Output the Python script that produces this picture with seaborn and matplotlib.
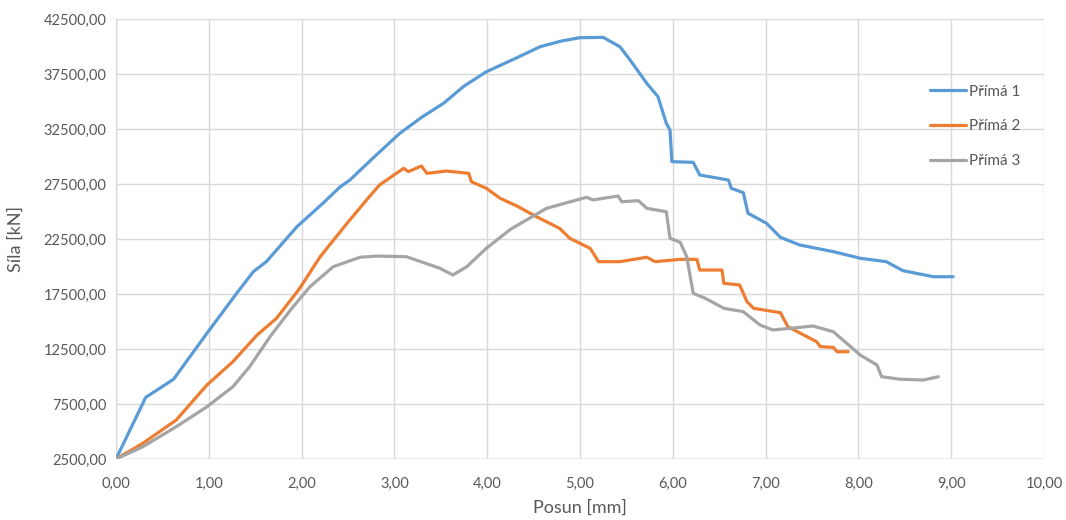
import numpy as np
import pandas as pd
import matplotlib
matplotlib.use('Agg')
import matplotlib.pyplot as plt
import seaborn as sns
from matplotlib.ticker import FuncFormatter

# Přímá 1
x1 = [0.00, 0.32, 0.62, 0.98, 1.30, 1.48, 1.62, 1.95, 2.23, 2.41, 2.52, 2.80, 3.06, 3.30, 3.53, 3.75,
      3.99, 4.30, 4.57, 4.80, 5.00, 5.25, 5.43, 5.54, 5.72, 5.84, 5.93, 5.97, 5.99, 6.22, 6.29, 6.60,
      6.63, 6.76, 6.81, 7.01, 7.16, 7.37, 7.73, 8.02, 8.30, 8.48, 8.81, 9.02]
y1 = [2500, 8100, 9750, 13930, 17560, 19530, 20440, 23620, 25750, 27200, 27860, 30100, 32120, 33600,
      34840, 36400, 37700, 38900, 39980, 40500, 40800, 40830, 39980, 38770, 36650, 35440, 33020, 32400,
      29530, 29470, 28320, 27860, 27110, 26710, 24840, 23930, 22650, 21950, 21350, 20750, 20440, 19620,
      19070, 19070]

# Přímá 2
x2 = [0.00, 0.29, 0.65, 0.98, 1.26, 1.52, 1.73, 1.98, 2.20, 2.49, 2.70, 2.84, 3.10, 3.15, 3.29, 3.35,
      3.56, 3.80, 3.83, 3.99, 4.14, 4.32, 4.53, 4.78, 4.89, 5.11, 5.20, 5.43, 5.72, 5.81, 6.08, 6.26,
      6.29, 6.53, 6.55, 6.72, 6.80, 6.87, 7.16, 7.24, 7.55, 7.59, 7.73, 7.77, 7.89]
y2 = [2500, 3930, 6050, 9230, 11350, 13770, 15290, 18020, 20890, 23930, 26050, 27410, 28930, 28620,
      29140, 28470, 28680, 28470, 27710, 27110, 26200, 25500, 24530, 23470, 22560, 21650, 20440, 20440,
      20840, 20440, 20650, 20650, 19680, 19680, 18470, 18320, 16800, 16200, 15800, 14530, 13160, 12710,
      12650, 12250, 12250]

# Přímá 3
x3 = [0.00, 0.29, 0.65, 0.98, 1.26, 1.44, 1.66, 1.88, 2.09, 2.34, 2.63, 2.81, 3.13, 3.49, 3.63, 3.78,
      3.99, 4.25, 4.64, 5.07, 5.14, 5.41, 5.45, 5.63, 5.72, 5.93, 5.97, 6.08, 6.15, 6.22, 6.35, 6.55,
      6.76, 6.94, 7.08, 7.51, 7.73, 8.02, 8.20, 8.25, 8.45, 8.70, 8.86]
y3 = [2500, 3620, 5440, 7250, 9070, 10890, 13620, 16050, 18160, 19980, 20840, 20950, 20890, 19840,
      19230, 19980, 21650, 23380, 25290, 26290, 26050, 26410, 25890, 25980, 25290, 24980, 22560, 22200,
      20890, 17560, 17110, 16200, 15890, 14680, 14230, 14590, 14070, 11950, 11050, 9980, 9750, 9680, 9980]

names = ['Přímá 1', 'Přímá 2', 'Přímá 3']
colors = ['#5B9BD5', '#ED7D31', '#A5A5A5']

df = pd.concat([
    pd.DataFrame({'Posun': x1, 'Sila': y1, 'serie': names[0]}),
    pd.DataFrame({'Posun': x2, 'Sila': y2, 'serie': names[1]}),
    pd.DataFrame({'Posun': x3, 'Sila': y3, 'serie': names[2]}),
], ignore_index=True)

sns.set_style('white')
plt.rcParams['font.family'] = ['Lato', 'DejaVu Sans']

fig = plt.figure(figsize=(10.66, 5.2), dpi=100)
ax = fig.add_axes([116/1066, 1 - 459/520, (1044 - 116)/1066, (459 - 19)/520])

sns.lineplot(data=df, x='Posun', y='Sila', hue='serie', hue_order=names, palette=colors,
             sort=False, estimator=None, linewidth=2.3, ax=ax)

ax.set_xlim(0, 10)
ax.set_ylim(2500, 42500)
ax.set_xticks(np.arange(0, 11, 1))
ax.set_yticks(np.arange(2500, 42501, 5000))
comma = FuncFormatter(lambda v, p: f'{v:.2f}'.replace('.', ','))
ax.xaxis.set_major_formatter(comma)
ax.yaxis.set_major_formatter(comma)
ax.tick_params(colors='#595959', labelsize=10.5, length=0, pad=7)
ax.tick_params(axis='x', pad=13)
ax.grid(True, color='#D9D9D9', linewidth=1)
ax.set_axisbelow(True)
for s in ax.spines.values():
    s.set_visible(False)
ax.axvline(0, color='#BFBFBF', linewidth=1, zorder=0.5)
ax.axhline(2500, color='#BFBFBF', linewidth=1, zorder=0.5)

ax.set_xlabel('Posun [mm]', fontsize=13, color='#595959', labelpad=6)
ax.set_ylabel('Síla [kN]', fontsize=13, color='#595959', labelpad=14)

leg = ax.legend(loc='upper left', bbox_to_anchor=(916/1066, 1 - 71/520), bbox_transform=fig.transFigure,
                frameon=False, fontsize=11, handlelength=2.4, handletextpad=0.15, labelspacing=1.35)
for t in leg.get_texts():
    t.set_color('#595959')

fig.savefig('out.png', dpi=100)
